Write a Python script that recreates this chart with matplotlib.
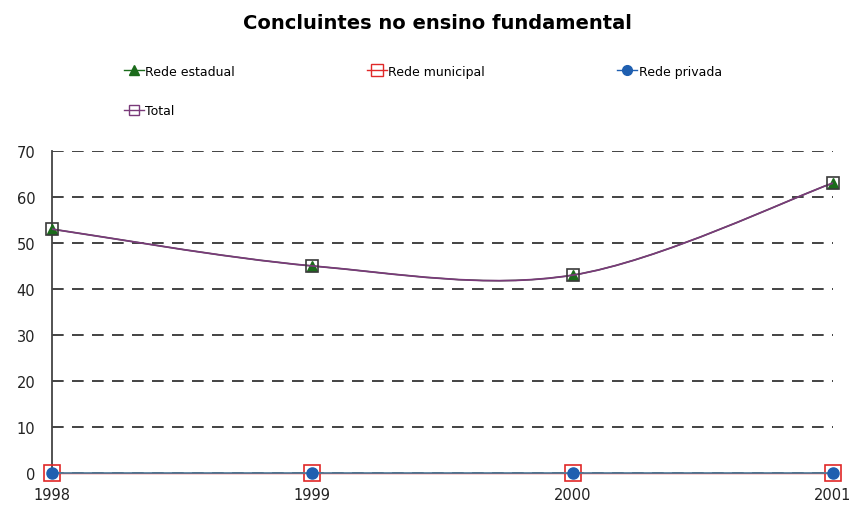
import numpy as np
import matplotlib
matplotlib.use("Agg")
import matplotlib.pyplot as plt
from matplotlib.path import Path
from matplotlib.patches import PathPatch
from matplotlib.lines import Line2D

# data
anos = [1998, 1999, 2000, 2001]
rede_estadual = [53, 45, 43, 63]
rede_municipal = [0, 0, 0, 0]
rede_privada = [0, 0, 0, 0]
total = [53, 45, 43, 63]
yticks = [0, 10, 20, 30, 40, 50, 60, 70]


def smooth_path(x, y, t=0.5):
    """Catmull-Rom style bezier path through the points (like Excel smoothed lines)."""
    x = np.asarray(x, float)
    y = np.asarray(y, float)
    verts = [(x[0], y[0])]
    codes = [Path.MOVETO]
    n = len(x)
    for i in range(n - 1):
        x0, y0 = (x[i - 1], y[i - 1]) if i > 0 else (x[i], y[i])
        x3, y3 = (x[i + 2], y[i + 2]) if i + 2 < n else (x[i + 1], y[i + 1])
        c1 = (x[i] + (x[i + 1] - x0) * t / 3, y[i] + (y[i + 1] - y0) * t / 3)
        c2 = (x[i + 1] - (x3 - x[i]) * t / 3, y[i + 1] - (y3 - y[i]) * t / 3)
        verts += [c1, c2, (x[i + 1], y[i + 1])]
        codes += [Path.CURVE4] * 3
    return Path(verts, codes)


fig = plt.figure(figsize=(8.5, 5.06), dpi=100)
ax = fig.add_axes([0.061, 0.063, 0.919, 0.637])

green = '#1b6b1b'
red = '#e02828'
blue = '#1f5fb0'
purple = '#7a3a7a'

ax.add_patch(PathPatch(smooth_path(anos, rede_estadual), fc='none', ec=green, lw=1, zorder=3))
ax.plot(anos, rede_estadual, ls='none', color=green, marker='^', ms=7, clip_on=False, zorder=3)
ax.plot(anos, rede_municipal, color=red, lw=1, marker='s', ms=11, mfc='none', mec=red, mew=1.2,
        clip_on=False, zorder=3)
ax.plot(anos, rede_privada, color='#4a7f9f', lw=1.2, marker='o', ms=8, mfc=blue, mec=blue,
        clip_on=False, zorder=4)
ax.add_patch(PathPatch(smooth_path(anos, total), fc='none', ec=purple, lw=1.3, zorder=4))
ax.plot(anos, total, ls='none', marker='s', ms=8, mfc='none', mec='#3a3a3a', mew=1.2,
        clip_on=False, zorder=5)

ax.set_xlim(1998, 2001)
ax.set_ylim(0, 70)
ax.set_xticks(anos)
ax.set_xticklabels([str(a) for a in anos])
ax.set_yticks(yticks)
ax.tick_params(length=0, labelsize=10.5, colors='#222222')
ax.tick_params(axis='x', pad=10)
ax.tick_params(axis='y', pad=12)

ax.grid(axis='y', color='#222222', ls=(0, (7, 5)), lw=1.2)
ax.set_axisbelow(True)
for s in ['top', 'right', 'bottom']:
    ax.spines[s].set_visible(False)
ax.spines['left'].set_color('#444444')
ax.spines['left'].set_linewidth(1.3)

fig.text(0.515, 0.953, 'Concluintes no ensino fundamental', ha='center', va='center',
         fontsize=14, fontweight='bold')

# order so the legend fills row by row: estadual, municipal, privada / total
handles = [
    Line2D([], [], color=green, marker='^', ms=7, lw=1),
    Line2D([], [], color=purple, marker='s', ms=7, mfc='none', lw=1),
    Line2D([], [], color=red, marker='s', ms=9, mfc='none', lw=1),
    Line2D([], [], color=blue, marker='o', ms=7, lw=1),
]
labels = ['Rede estadual', 'Total', 'Rede municipal', 'Rede privada']
fig.legend(handles, labels, ncol=3, loc='upper left', bbox_to_anchor=(0.14, 0.80, 0.715, 0.08),
           mode='expand', frameon=False, fontsize=9, handlelength=1.6, handletextpad=0.1,
           labelspacing=2.1, borderaxespad=0)

fig.savefig('out.png', dpi=100)
